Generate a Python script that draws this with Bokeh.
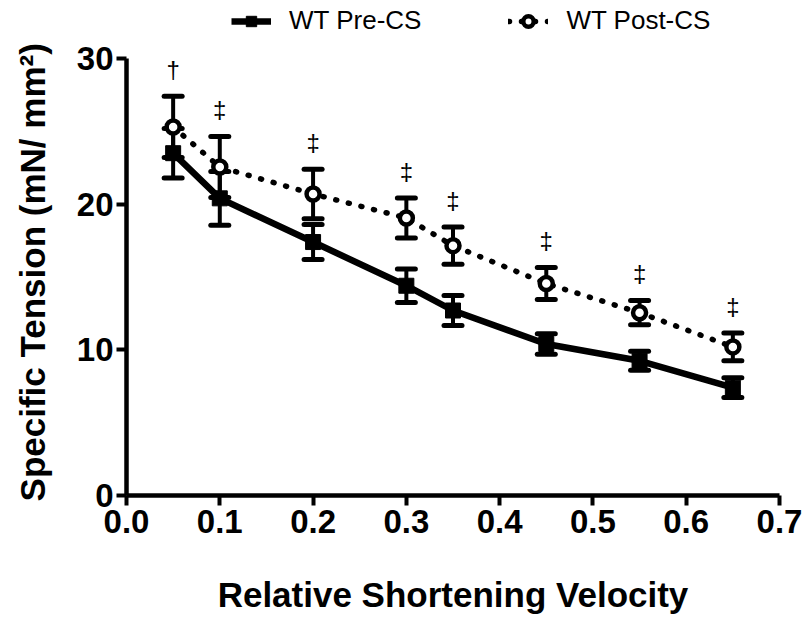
from bokeh.plotting import figure
from bokeh.models import (Range1d, FixedTicker, NumeralTickFormatter, Whisker,
                          ColumnDataSource, Legend, LegendItem, TeeHead)
from bokeh.core.properties import value
from bokeh.embed import file_html
from bokeh.resources import INLINE

# ---- data ----
velocity = [0.05, 0.1, 0.2, 0.3, 0.35, 0.45, 0.55, 0.65]
pre_cs = [23.5, 20.4, 17.4, 14.4, 12.7, 10.4, 9.25, 7.4]
pre_err = [1.7, 1.85, 1.2, 1.15, 1.03, 0.71, 0.65, 0.68]
post_cs = [25.3, 22.55, 20.7, 19.05, 17.15, 14.55, 12.55, 10.2]
post_err = [2.1, 2.1, 1.7, 1.37, 1.28, 1.1, 0.83, 0.95]
sig_marks = ["\u2020", "\u2021", "\u2021", "\u2021", "\u2021", "\u2021", "\u2021", "\u2021"]
x_ticks = [0.0, 0.1, 0.2, 0.3, 0.4, 0.5, 0.6, 0.7]
y_ticks = [0, 10, 20, 30]
series_names = ["WT Pre-CS", "WT Post-CS"]
y_title = "Specific Tension (mN/ mm\u00b2)"
x_title = "Relative Shortening Velocity"

FONT = "Liberation Sans"

# layout: axis spans y 0..30 over 437 px; frame extends to the top of the canvas
FRAME_H = 495
AXIS_H = 437
Y_MAX = 30 * FRAME_H / AXIS_H

pre_src = ColumnDataSource(dict(
    x=velocity, y=pre_cs,
    upper=[v + e for v, e in zip(pre_cs, pre_err)],
    lower=[v - e for v, e in zip(pre_cs, pre_err)]))
post_src = ColumnDataSource(dict(
    x=velocity, y=post_cs,
    upper=[v + e for v, e in zip(post_cs, post_err)],
    lower=[v - e for v, e in zip(post_cs, post_err)],
    mark=sig_marks))

p = figure(frame_width=653, frame_height=FRAME_H,
           min_border_left=126, min_border_right=26,
           min_border_top=0, min_border_bottom=122,
           x_range=Range1d(0, 0.7), y_range=Range1d(0, Y_MAX),
           output_backend="svg", toolbar_location=None,
           background_fill_color="white", border_fill_color="white")
p.outline_line_color = None
p.grid.visible = False

# error bars
for src in (pre_src, post_src):
    w = Whisker(source=src, base="x", upper="upper", lower="lower",
                line_width=4, line_color="black", level="underlay",
                upper_head=TeeHead(size=18, line_width=5, line_color="black", line_cap="round"),
                lower_head=TeeHead(size=18, line_width=5, line_color="black", line_cap="round"))
    p.add_layout(w)

pre_line = p.line("x", "y", source=pre_src, line_width=6.5, line_color="black", line_join="round")
post_line = p.line("x", "y", source=post_src, line_width=5.5, line_color="black",
                   line_dash="1 12", line_cap="round")
pre_pts = p.scatter("x", "y", source=pre_src, marker="square", size=15,
                    fill_color="black", line_color="black")
post_pts = p.scatter("x", "y", source=post_src, marker="circle", size=13,
                     fill_color="white", line_color="black", line_width=4.5)

p.text("x", "upper", text="mark", source=post_src, y_offset=-27,
       text_align="center", text_baseline="middle",
       text_font=value(FONT), text_font_size="24px", text_color="black")

# axes
for ax in (p.xaxis[0], p.yaxis[0]):
    ax.axis_line_width = 4.5
    ax.axis_line_color = "black"
    ax.major_tick_line_width = 4
    ax.major_tick_line_color = "black"
    ax.major_tick_out = 10
    ax.major_tick_in = 0
    ax.minor_tick_line_color = None
    ax.major_label_text_font = FONT
    ax.major_label_text_font_style = "bold"
    ax.major_label_text_font_size = "33px"
    ax.major_label_text_color = "black"
    ax.axis_label_text_font = FONT
    ax.axis_label_text_font_style = "bold"
    ax.axis_label_text_font_size = "35px"
    ax.axis_label_text_color = "black"

p.xaxis.ticker = FixedTicker(ticks=x_ticks)
p.xaxis.formatter = NumeralTickFormatter(format="0.0")
p.xaxis.major_label_standoff = 4
p.xaxis.axis_label = x_title
p.xaxis.axis_label_standoff = 39

ya = p.yaxis[0]
ya.ticker = FixedTicker(ticks=y_ticks)
ya.bounds = (0, 30)
ya.major_label_standoff = 3
# trailing no-break spaces shift the visible title down toward the 0..30 axis span
ya.axis_label = y_title + "\u00a0" * 5
ya.axis_label_standoff = 22

legend = Legend(items=[LegendItem(label=series_names[0], renderers=[pre_line, pre_pts]),
                       LegendItem(label=series_names[1], renderers=[post_line, post_pts])],
                orientation="horizontal", location=(105, FRAME_H - 36),
                border_line_alpha=0, background_fill_alpha=0,
                label_text_font=FONT, label_text_font_size="26px",
                label_text_color="black",
                glyph_width=40, glyph_height=26, label_standoff=18,
                spacing=87, padding=0, margin=0)
p.add_layout(legend, "center")

open("out.html", "w").write(file_html(p, INLINE))
